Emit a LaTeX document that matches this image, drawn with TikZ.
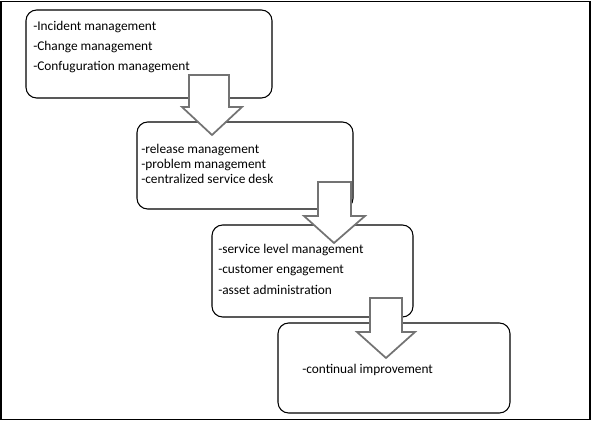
\documentclass[tikz,border=0pt]{standalone}
\usepackage{fontspec}
\setmainfont{Carlito}
\usetikzlibrary{positioning}

\tikzset{
  stagebox/.style={draw=black, rounded corners=8pt, line width=0.8pt},
  itemtext/.style={anchor=base west, inner sep=0pt, font=\fontsize{10}{12}\selectfont},
  blockarrow/.style={draw=gray!90!black, fill=white, line width=1.3pt, line join=miter}
}

\begin{document}
\begin{tikzpicture}[x=0.75pt,y=-0.75pt]
            \useasboundingbox (0,0) rectangle (592,424);
            \draw [line width=0.8pt] (1,1.5) rectangle (590,419.5);
            % stages
            \draw [stagebox] (26,10) rectangle (272,98);
            \draw [stagebox] (137,122) rectangle (353,209);
            \draw [stagebox] (212,225) rectangle (413,317);
            \draw [stagebox] (278,323) rectangle (510,413);
            % block arrows between the stages
            \coordinate (a1) at (212,135);
            \coordinate (a2) at (334,243);
            \coordinate (a3) at (386,358);
            \draw [blockarrow] (189,75) -- (229,75) -- (229,107) -- (242,107) -- (a1)
                  -- (182,107) -- (189,107) -- cycle;
            \draw [blockarrow] (318,182) -- (351,182) -- (351,216) -- (365,216) -- (a2)
                  -- (304,216) -- (318,216) -- cycle;
            \draw [blockarrow] (370,298) -- (402,298) -- (402,332) -- (415,332) -- (a3)
                  -- (357,332) -- (370,332) -- cycle;
            % texts
            \node [itemtext] (t11) at (33,31) {-Incident management};
            \node [itemtext] (t12) at (33,51) {-Change management};
            \node [itemtext] (t13) at (33,71) {-Confuguration management};
            \node [itemtext] (t21) at (141,154) {-release management};
            \node [itemtext] (t22) at (141,169) {-problem management};
            \node [itemtext] (t23) at (141,183) {-centralized service desk};
            \node [itemtext] (t31) at (218,253) {-service level management};
            \node [itemtext] (t32) at (218,273) {-customer engagement};
            \node [itemtext] (t33) at (218,294) {-asset administration};
            \node [itemtext] (t41) at (302,373) {-continual improvement};
\end{tikzpicture}
\end{document}
